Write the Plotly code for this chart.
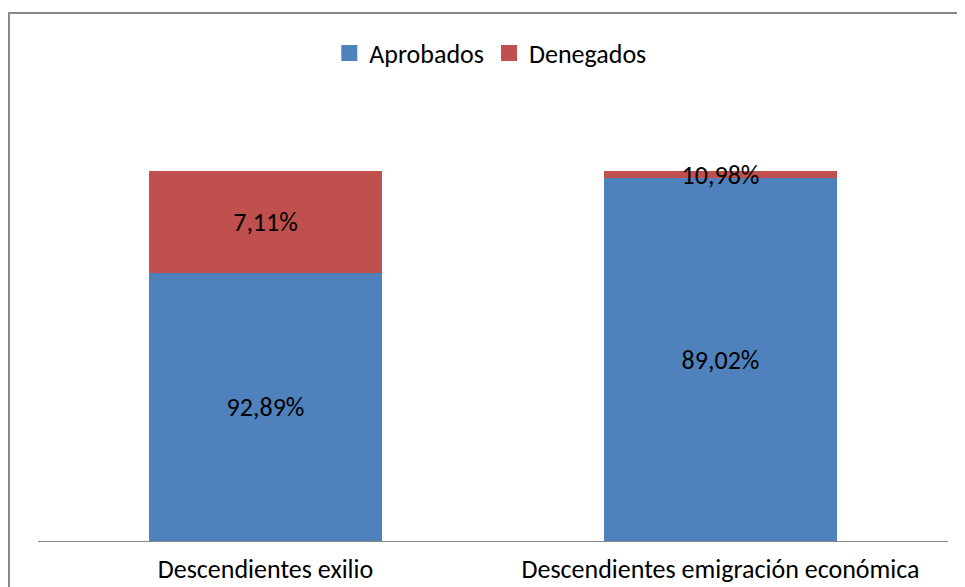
import plotly.graph_objects as go

categories = ["Descendientes exilio", "Descendientes emigración económica"]
aprobados = [0.724, 0.981]
denegados = [0.276, 0.019]
aprobados_labels = ["92,89%", "89,02%"]
denegados_labels = ["7,11%", "10,98%"]
series_names = ["Aprobados", "Denegados"]
series_colors = ["#4F81BD", "#C0504D"]

FONT = "Carlito, Lato, sans-serif"
fs = 26

fig = go.Figure()
for vals, labels, name, color in zip([aprobados, denegados],
                                     [aprobados_labels, denegados_labels],
                                     series_names, series_colors):
    fig.add_trace(go.Bar(
        x=categories, y=vals, name=name, showlegend=False,
        marker=dict(color=color, line=dict(width=0)),
        text=labels, textposition="inside", insidetextanchor="middle",
        textfont=dict(color="black", size=fs, family=FONT), constraintext="none",
    ))
# legend entries with larger square swatches
for name, color in zip(series_names, series_colors):
    fig.add_trace(go.Scatter(
        x=[None], y=[None], mode="markers", name=name,
        marker=dict(symbol="square", size=16, color=color),
    ))

fig.update_layout(
    width=965, height=587,
    barmode="stack", bargap=0.486,
    margin=dict(l=30, r=25, t=89, b=54),
    paper_bgcolor="white", plot_bgcolor="white",
    font=dict(family=FONT, size=fs, color="black"),
    uniformtext=dict(minsize=fs, mode="show"),
    legend=dict(orientation="h", x=0.497, xanchor="center", y=1.099, yanchor="middle",
                font=dict(size=fs, family=FONT), itemwidth=30, traceorder="normal",
                itemsizing="trace"),
    xaxis=dict(showline=True, linecolor="#868686", linewidth=1, showgrid=False,
               automargin=False, ticks="", ticklabelstandoff=5,
               tickfont=dict(size=fs, family=FONT)),
    yaxis=dict(range=[0, 1.2], visible=False, showgrid=False, automargin=False),
    shapes=[dict(type="rect", xref="paper", yref="paper",
                 x0=-0.0319, x1=1.2, y0=-0.3, y1=1.189,
                 line=dict(color="#888888", width=2), fillcolor="rgba(0,0,0,0)")],
)

fig.write_html("out.html")
